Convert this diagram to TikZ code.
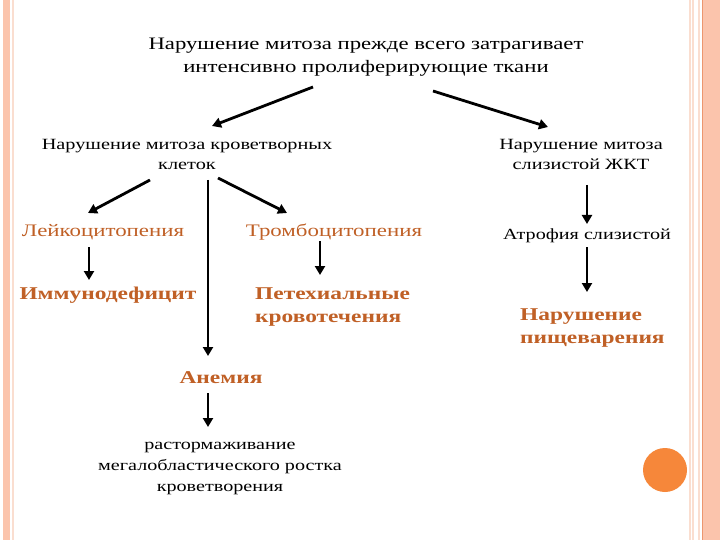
\documentclass[tikz,border=0pt]{standalone}
\usepackage{fontspec}
\setmainfont{Liberation Serif}[FakeStretch=1.3]
\usepackage{tikz}
\usetikzlibrary{arrows.meta,calc}
\definecolor{salmon}{RGB}{251,196,172}
\definecolor{paleline}{RGB}{250,222,208}
\definecolor{edgeline}{RGB}{236,150,110}
\definecolor{rust}{RGB}{192,96,38}
\definecolor{dot}{RGB}{246,135,58}
\tikzset{
  plain/.style = {inner sep=0pt, align=center, font=\fontsize{15.6}{20}\selectfont},
  sick/.style = {inner sep=0pt, align=center, text=rust, font=\fontsize{17.6}{22}\selectfont},
  sickbold/.style = {sick, font=\fontsize{18}{23.5}\selectfont\bfseries},
  arrow/.style = {line width=2.8pt, -{Triangle[length=9pt,width=10pt]}}
}

\begin{document}
\begin{tikzpicture}[x=1pt, y=-1pt]

% slide frame
\useasboundingbox (0,0) rectangle (720,540);
\fill[white] (0,0) rectangle (720,540);
\fill[salmon] (3,0) rectangle (9.5,540);
\fill[paleline] (12,0) rectangle (13.5,540);
\fill[paleline] (689,0) rectangle (690.5,540);
\fill[paleline] (692,0) rectangle (693.5,540);
\fill[paleline] (698,0) rectangle (699.5,540);
\fill[salmon] (702,0) rectangle (720,540);
\fill[edgeline] (702,0) rectangle (703.2,540);
\fill[dot] (665,470) circle (22);

% nodes
\node[plain, font=\fontsize{17.5}{23}\selectfont] (title) at (366,57)
  {Нарушение митоза прежде всего затрагивает\\ интенсивно пролиферирующие ткани};
\node[plain] (blood) at (187,154) {Нарушение митоза кроветворных\\ клеток};
\node[plain] (gut) at (581,154) {Нарушение митоза\\ слизистой ЖКТ};

\node[sick] (leuko) at (103,232) {Лейкоцитопения};
\node[sick] (thrombo) at (334,232) {Тромбоцитопения};
\node[sickbold] (immuno) at (108,295) {Иммунодефицит};
\node[sickbold, anchor=west, align=left] (petech) at (255,307) {Петехиальные\\ кровотечения};
\node[sickbold] (anemia) at (221,378) {Анемия};
\node[plain, font=\fontsize{15.5}{21}\selectfont] (megalo) at (220,468)
  {растормаживание\\ мегалобластического ростка\\ кроветворения};

\node[plain, font=\fontsize{15.5}{20}\selectfont] (atrophy) at (587,236) {Атрофия слизистой};
\node[sickbold, anchor=west, align=left] (digest) at (520,328) {Нарушение\\ пищеварения};

% connectors
\draw[arrow] ($(title)+(-53,30)$) -- ($(blood)+(25,-28)$);
\draw[arrow] ($(title)+(67,34)$) -- ($(gut)+(-33,-27)$);
\draw[arrow] ($(blood)+(-37,26)$) -- ($(leuko)+(-15,-19)$);
\draw[arrow] ($(blood)+(21,26)$) -- ($(anemia)+(-13,-22)$);
\draw[arrow] ($(blood)+(31,24)$) -- ($(thrombo)+(-47,-19)$);
\draw[arrow] ($(leuko)+(-14,15)$) -- ($(immuno)+(-19,-15)$);
\draw[arrow] ($(thrombo)+(-14,9)$) -- ($(petech.west)+(65,-32)$);
\draw[arrow] ($(anemia)+(-13,15)$) -- ($(megalo)+(-12,-41)$);
\draw[arrow] ($(gut)+(6,31)$) -- ($(atrophy)+(0,-12)$);
\draw[arrow] ($(atrophy)+(0,11)$) -- ($(digest.west)+(67,-36)$);

\end{tikzpicture}
\end{document}
